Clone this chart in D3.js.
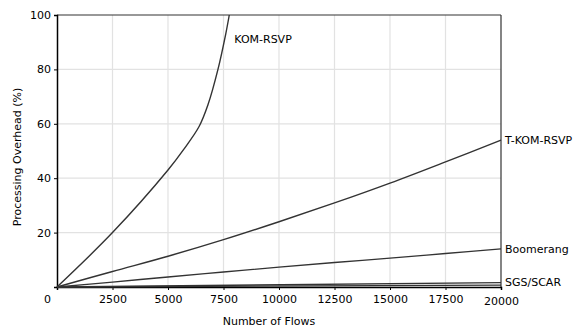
<!DOCTYPE html>
<html>
<head>
<meta charset="utf-8">
<script src="https://cdn.jsdelivr.net/npm/d3@7"></script>
<style>
  body { margin: 0; background: #fff; }
  svg text { font-family: "DejaVu Sans", Verdana, sans-serif; font-size: 11px; fill: #000; }
</style>
</head>
<body>
<div id="chart"></div>
<script>
// values
const xTicks = [0, 2500, 5000, 7500, 10000, 12500, 15000, 17500, 20000];
const yTicks = [20, 40, 60, 80, 100];

const komFlows = [0, 2500, 5000, 5700, 6400, 6800, 7250, 7600, 7760];
const komValues = [0, 20, 43, 50.5, 59, 67, 80, 93, 100];

const tkomFlows = [0, 2500, 5000, 7500, 10000, 12500, 15000, 17500, 20000];
const tkomValues = [0, 5.7, 11.3, 17.4, 24, 30.9, 38.2, 46, 54];

const boomFlows = [0, 2500, 5000, 7500, 10000, 12500, 15000, 17500, 20000];
const boomValues = [0, 1.8, 3.7, 5.5, 7.3, 9.0, 10.6, 12.3, 14];

const sgsFlows = [0, 20000];
const sgsValues = [0, 1.6];
const scarFlows = [0, 20000];
const scarValues = [0, 0.7];

const seriesNames = ['KOM-RSVP', 'T-KOM-RSVP', 'Boomerang', 'SGS/SCAR'];

const width = 585, height = 327;
const margin = {top: 15, right: 84, bottom: 40, left: 57};
const w = width - margin.left - margin.right;
const h = height - margin.top - margin.bottom;

const svg = d3.select('#chart').append('svg')
  .attr('width', width)
  .attr('height', height);

const g = svg.append('g')
  .attr('transform', `translate(${margin.left},${margin.top})`);

const x = d3.scaleLinear().domain([0, 20000]).range([0, w]);
const y = d3.scaleLinear().domain([0, 100]).range([h, 0]);

// grid
g.append('g').selectAll('line')
  .data(xTicks.slice(1, -1))
  .join('line')
  .attr('x1', d => x(d)).attr('x2', d => x(d))
  .attr('y1', 0).attr('y2', h)
  .attr('stroke', '#e2e2e2').attr('stroke-width', 1.2);
g.append('g').selectAll('line')
  .data(yTicks.slice(0, -1))
  .join('line')
  .attr('x1', 0).attr('x2', w)
  .attr('y1', d => y(d)).attr('y2', d => y(d))
  .attr('stroke', '#e2e2e2').attr('stroke-width', 1.2);

// frame top/right
g.append('line').attr('x1', 0).attr('x2', w).attr('y1', 0).attr('y2', 0)
  .attr('stroke', '#333').attr('stroke-width', 1.2);
g.append('line').attr('x1', w).attr('x2', w).attr('y1', 0).attr('y2', h)
  .attr('stroke', '#333').attr('stroke-width', 1.2);

// axes
const xAxis = g.append('g')
  .attr('transform', `translate(0,${h})`)
  .call(d3.axisBottom(x).tickValues(xTicks).tickSize(3).tickPadding(5).tickFormat(d3.format('d')));
xAxis.select('.domain').attr('stroke', '#000').attr('stroke-width', 1.5);
xAxis.selectAll('.tick line').attr('stroke', '#000');
xAxis.selectAll('.tick text').filter(d => d === 0).attr('dx', -10);
xAxis.selectAll('.tick text').filter(d => d === 20000).attr('dy', '0.92em');

const yAxis = g.append('g')
  .call(d3.axisLeft(y).tickValues(yTicks).tickSize(3).tickPadding(3));
yAxis.select('.domain').attr('stroke', '#000').attr('stroke-width', 1.5);
yAxis.selectAll('.tick line').attr('stroke', '#000');

svg.selectAll('.tick text').style('font-size', '11px');

// lines
const series = [
  {flows: komFlows, values: komValues},
  {flows: tkomFlows, values: tkomValues},
  {flows: boomFlows, values: boomValues},
  {flows: sgsFlows, values: sgsValues},
  {flows: scarFlows, values: scarValues}
];

const line = d3.line()
  .x(d => x(d[0]))
  .y(d => y(d[1]))
  .curve(d3.curveCatmullRom.alpha(0.5));

g.append('g').selectAll('path')
  .data(series)
  .join('path')
  .attr('d', s => line(s.flows.map((f, i) => [f, s.values[i]])))
  .attr('fill', 'none')
  .attr('stroke', '#333')
  .attr('stroke-width', 1.4);

// series labels
g.append('text')
  .attr('x', x(7760) + 5).attr('y', y(91))
  .attr('dy', '0.35em')
  .text(seriesNames[0]);
const endLabels = [
  {name: seriesNames[1], v: tkomValues[tkomValues.length - 1]},
  {name: seriesNames[2], v: boomValues[boomValues.length - 1]},
  {name: seriesNames[3], v: sgsValues[sgsValues.length - 1]}
];
g.selectAll('.endlabel')
  .data(endLabels)
  .join('text')
  .attr('class', 'endlabel')
  .attr('x', w + 4)
  .attr('y', d => y(d.v))
  .attr('dy', '0.35em')
  .text(d => d.name);

// axis titles
svg.append('text')
  .attr('x', margin.left + w / 2 - 10)
  .attr('y', 325)
  .attr('text-anchor', 'middle')
  .text('Number of Flows');

svg.append('text')
  .attr('transform', 'translate(21,157) rotate(-90)')
  .attr('text-anchor', 'middle')
  .text('Processing Overhead (%)');
</script>
</body>
</html>
